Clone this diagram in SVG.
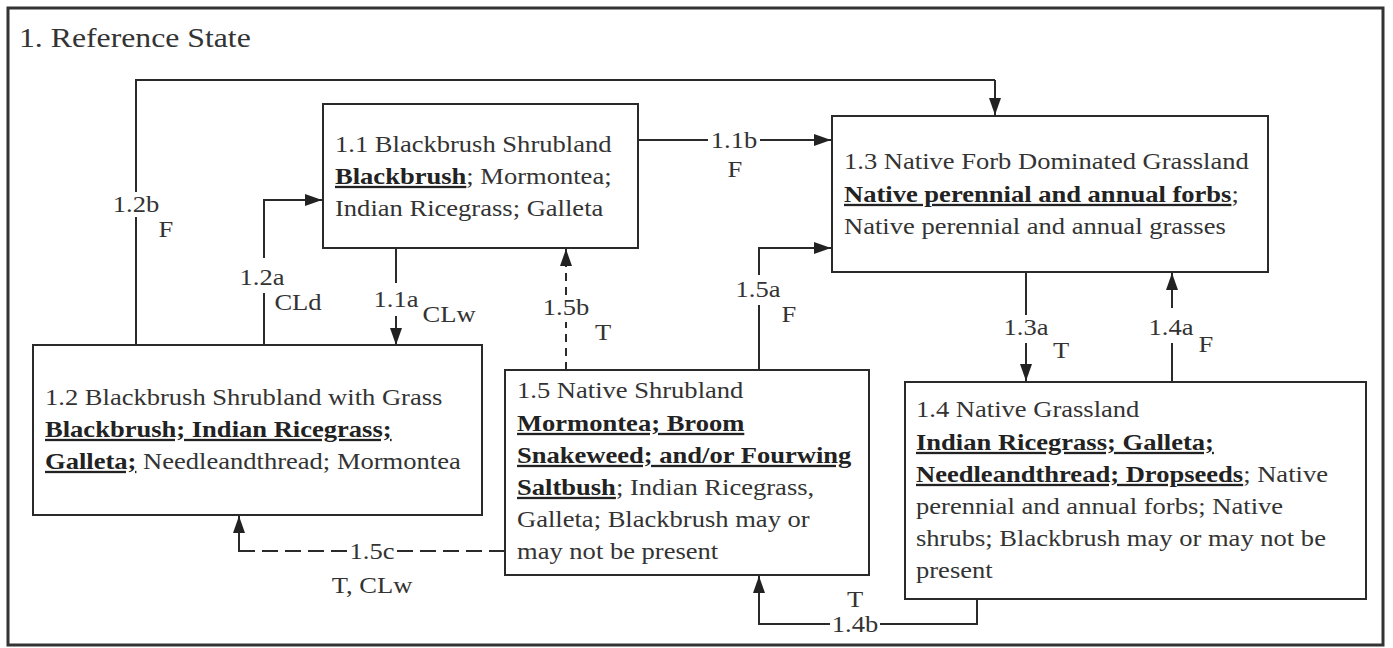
<svg xmlns="http://www.w3.org/2000/svg" width="1393" height="648" viewBox="0 0 1393 648">
<style>
text{font-family:"Liberation Serif","Times New Roman",serif;fill:#333;}
.t{font-size:23px;}
.title{font-size:27.5px;}
.lbl{font-size:23px;text-anchor:middle;}
.b{font-weight:bold;fill:#222;text-decoration:underline;}
.box{fill:#fff;stroke:#2a2a2a;stroke-width:2;}
.ln{fill:none;stroke:#2a2a2a;stroke-width:2;}
.ar{marker-end:url(#ah);}
.d1{stroke-dasharray:8 6;}
.d2{stroke-dasharray:16 7;}
</style>
<defs>
<marker id="ah" markerUnits="userSpaceOnUse" markerWidth="18" markerHeight="12" refX="17" refY="6" orient="auto">
<path d="M0,0 L17,6 L0,12 z" fill="#222"/>
</marker>
</defs>
<rect x="0" y="0" width="1393" height="648" fill="#fff"/>
<rect x="8" y="8" width="1375" height="637" fill="none" stroke="#333" stroke-width="3"/>
<text class="title" transform="matrix(1.155 0 0 1 19 0)" x="0" y="47">1. Reference State</text>

<g id="connectors">
<path class="ln" d="M136,345 V217 M136,192 V80 H995"/>
<path class="ln ar" d="M995,80 V115"/>
<path class="ln" d="M264,345 V293"/>
<path class="ln ar" d="M264,258 V200 H322"/>
<path class="ln" d="M396,248 V283"/>
<path class="ln ar" d="M396,316 V345"/>
<path class="ln d1" d="M566,370 V322"/>
<path class="ln d1 ar" d="M566,295 V249"/>
<path class="ln" d="M638,140 H708"/>
<path class="ln ar" d="M760,140 H831"/>
<path class="ln" d="M759,370 V305"/>
<path class="ln ar" d="M759,275 V248 H831"/>
<path class="ln" d="M1026,272 V315"/>
<path class="ln ar" d="M1026,343 V381"/>
<path class="ln" d="M1172,382 V343"/>
<path class="ln ar" d="M1172,308 V273"/>
<path class="ln" d="M977,599 V624 H880"/>
<path class="ln ar" d="M830,624 H759 V576"/>
<path class="ln d2" d="M505,551 H397 M347,551 H247"/>
<path class="ln ar" d="M247,551 H239 V516"/>
<g>
<text class="lbl" transform="matrix(1.155 0 0 1 136 0)" x="0" y="212">1.2b</text>
<text class="lbl" transform="matrix(1.155 0 0 1 166 0)" x="0" y="237">F</text>
<text class="lbl" transform="matrix(1.155 0 0 1 262 0)" x="0" y="285">1.2a</text>
<text class="lbl" transform="matrix(1.155 0 0 1 298 0)" x="0" y="310">CLd</text>
<text class="lbl" transform="matrix(1.155 0 0 1 396 0)" x="0" y="307">1.1a</text>
<text class="lbl" transform="matrix(1.155 0 0 1 449 0)" x="0" y="322">CLw</text>
<text class="lbl" transform="matrix(1.155 0 0 1 566 0)" x="0" y="315">1.5b</text>
<text class="lbl" transform="matrix(1.155 0 0 1 603 0)" x="0" y="340">T</text>
<text class="lbl" transform="matrix(1.155 0 0 1 734 0)" x="0" y="148">1.1b</text>
<text class="lbl" transform="matrix(1.155 0 0 1 735 0)" x="0" y="177">F</text>
<text class="lbl" transform="matrix(1.155 0 0 1 758 0)" x="0" y="297">1.5a</text>
<text class="lbl" transform="matrix(1.155 0 0 1 789 0)" x="0" y="322">F</text>
<text class="lbl" transform="matrix(1.155 0 0 1 1026 0)" x="0" y="335">1.3a</text>
<text class="lbl" transform="matrix(1.155 0 0 1 1061 0)" x="0" y="358">T</text>
<text class="lbl" transform="matrix(1.155 0 0 1 1171 0)" x="0" y="335">1.4a</text>
<text class="lbl" transform="matrix(1.155 0 0 1 1206 0)" x="0" y="352">F</text>
<text class="lbl" transform="matrix(1.155 0 0 1 855 0)" x="0" y="632">1.4b</text>
<text class="lbl" transform="matrix(1.155 0 0 1 855 0)" x="0" y="607">T</text>
<text class="lbl" transform="matrix(1.155 0 0 1 372 0)" x="0" y="559">1.5c</text>
<text class="lbl" transform="matrix(1.155 0 0 1 372 0)" x="0" y="593">T, CLw</text>
</g>
</g>

<g id="node-1-1">
<rect class="box" x="323" y="104" width="315" height="144"/>
<text class="t" transform="matrix(1.155 0 0 1 335 0)">
<tspan x="0" y="152">1.1 Blackbrush Shrubland</tspan>
<tspan x="0" y="184"><tspan class="b">Blackbrush</tspan>; Mormontea;</tspan>
<tspan x="0" y="216">Indian Ricegrass; Galleta</tspan>
</text>
</g>

<g id="node-1-3">
<rect class="box" x="832" y="116" width="436" height="156"/>
<text class="t" transform="matrix(1.155 0 0 1 844 0)">
<tspan x="0" y="169">1.3 Native Forb Dominated Grassland</tspan>
<tspan x="0" y="202"><tspan class="b">Native perennial and annual forbs</tspan>;</tspan>
<tspan x="0" y="234">Native perennial and annual grasses</tspan>
</text>
</g>

<g id="node-1-2">
<rect class="box" x="33" y="345" width="449" height="170"/>
<text class="t" transform="matrix(1.155 0 0 1 45 0)">
<tspan x="0" y="405">1.2 Blackbrush Shrubland with Grass</tspan>
<tspan x="0" y="437"><tspan class="b">Blackbrush; Indian Ricegrass;</tspan></tspan>
<tspan x="0" y="469"><tspan class="b">Galleta;</tspan> Needleandthread; Mormontea</tspan>
</text>
</g>

<g id="node-1-5">
<rect class="box" x="505" y="370" width="364" height="205"/>
<text class="t" transform="matrix(1.155 0 0 1 517 0)">
<tspan x="0" y="398">1.5 Native Shrubland</tspan>
<tspan x="0" y="431"><tspan class="b">Mormontea; Broom</tspan></tspan>
<tspan x="0" y="463"><tspan class="b">Snakeweed; and/or Fourwing</tspan></tspan>
<tspan x="0" y="495"><tspan class="b">Saltbush</tspan>; Indian Ricegrass,</tspan>
<tspan x="0" y="527">Galleta; Blackbrush may or</tspan>
<tspan x="0" y="559">may not be present</tspan>
</text>
</g>

<g id="node-1-4">
<rect class="box" x="905" y="382" width="461" height="217"/>
<text class="t" transform="matrix(1.155 0 0 1 916 0)">
<tspan x="0" y="417">1.4 Native Grassland</tspan>
<tspan x="0" y="450"><tspan class="b">Indian Ricegrass; Galleta;</tspan></tspan>
<tspan x="0" y="482"><tspan class="b">Needleandthread; Dropseeds</tspan>; Native</tspan>
<tspan x="0" y="514">perennial and annual forbs; Native</tspan>
<tspan x="0" y="546">shrubs; Blackbrush may or may not be</tspan>
<tspan x="0" y="578">present</tspan>
</text>
</g>
</svg>
